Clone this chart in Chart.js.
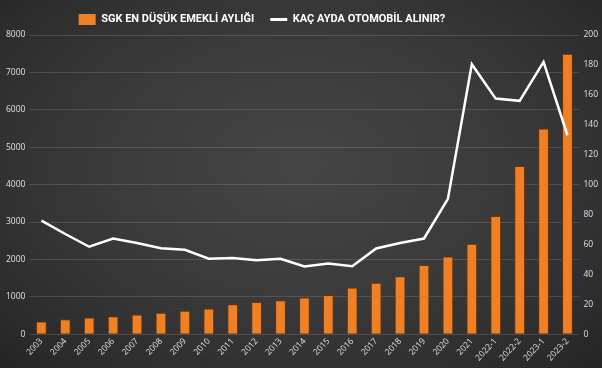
<!DOCTYPE html>
<html>
<head>
<meta charset="utf-8">
<script src="https://cdn.jsdelivr.net/npm/chart.js@4"></script>
<style>
  html, body { margin: 0; padding: 0; }
  body {
    width: 602px; height: 368px; overflow: hidden;
    background: radial-gradient(ellipse at 50% 45%, #454545 0%, #3b3b3b 45%, #2c2c2c 85%, #242424 100%);
  }
  #wrap { position: relative; width: 602px; height: 368px; }
</style>
</head>
<body>
<div id="wrap"><canvas id="emekli-chart"></canvas></div>
<script>
// Data
const years = ['2003', '2004', '2005', '2006', '2007', '2008', '2009', '2010', '2011', '2012', '2013',
  '2014', '2015', '2016', '2017', '2018', '2019', '2020', '2021', '2022-1', '2022-2', '2023-1', '2023-2'];
const pension = [340, 400, 450, 480, 530, 575, 630, 690, 800, 860, 910,
  980, 1050, 1250, 1380, 1550, 1850, 2080, 2420, 3160, 4500, 5500, 7500];
const monthsForCar = [76, 67, 58.5, 64, 61, 57.5, 56.5, 50.5, 51, 49.5, 50.5,
  45.3, 47.3, 45.5, 57.3, 61, 64, 90.5, 180.5, 157.5, 156, 182, 133];
const leftTicks = [0, 1000, 2000, 3000, 4000, 5000, 6000, 7000, 8000];
const rightTicks = [0, 20, 40, 60, 80, 100, 120, 140, 160, 180, 200];

const orange = '#f08024';
const tickFont = { family: "'Open Sans', 'DejaVu Sans', sans-serif", size: 8.5 };

// legend sits left of centre in the original
const legendShift = {
  id: 'legendShift',
  afterLayout(chart) {
    if (chart.legend) {
      chart.legend.left -= 40;
      chart.legend.right -= 40;
    }
  }
};

const ctx = document.getElementById('emekli-chart').getContext('2d');

new Chart(ctx, {
  type: 'bar',
  data: {
    labels: years,
    datasets: [{
      type: 'line',
      label: 'KAÇ AYDA OTOMOBİL ALINIR?',
      data: monthsForCar,
      yAxisID: 'y2',
      borderColor: '#ffffff',
      backgroundColor: '#ffffff',
      borderWidth: 2.5,
      pointRadius: 0,
      tension: 0,
      order: 0
    }, {
      label: 'SGK EN DÜŞÜK EMEKLİ AYLIĞI',
      data: pension,
      yAxisID: 'y',
      backgroundColor: orange,
      borderColor: '#6a3510',
      borderWidth: 1,
      barPercentage: 0.45,
      categoryPercentage: 1,
      order: 1
    }]
  },
  plugins: [legendShift],
  options: {
    responsive: true,
    maintainAspectRatio: false,
    animation: false,
    layout: { padding: { top: -2, left: 2, right: 0, bottom: 3 } },
    plugins: {
      legend: {
        position: 'top',
        reverse: true,
        labels: {
          color: '#ffffff',
          usePointStyle: true,
          pointStyleWidth: 17,
          boxHeight: 11,
          padding: 16,
          font: { family: "'Roboto', sans-serif", size: 11, weight: 'bold' },
          generateLabels: function(chart) {
            const items = Chart.defaults.plugins.legend.labels.generateLabels(chart);
            items.forEach(function(item) {
              if (item.datasetIndex === 1) {
                item.pointStyle = 'rect';
                item.fillStyle = orange;
                item.strokeStyle = orange;
                item.lineWidth = 0;
              } else {
                item.pointStyle = 'line';
                item.strokeStyle = '#ffffff';
                item.lineWidth = 3;
              }
            });
            return items;
          }
        }
      },
      tooltip: { enabled: false }
    },
    scales: {
      x: {
        grid: { display: false, drawTicks: false },
        border: { display: false },
        ticks: { color: '#e0e0e0', font: tickFont, minRotation: 47, maxRotation: 47, autoSkip: false, padding: 2 }
      },
      y: {
        position: 'left',
        min: 0,
        max: 8000,
        afterBuildTicks: function(axis) { axis.ticks = leftTicks.map(v => ({ value: v })); },
        grid: { color: 'rgba(255,255,255,0.13)', lineWidth: 1, drawTicks: false },
        border: { display: false },
        ticks: { color: '#e0e0e0', font: tickFont, padding: 4, callback: v => String(v) }
      },
      y2: {
        position: 'right',
        min: 0,
        max: 200,
        afterBuildTicks: function(axis) { axis.ticks = rightTicks.map(v => ({ value: v })); },
        grid: { display: false, drawTicks: false },
        border: { display: false },
        ticks: { color: '#e0e0e0', font: tickFont, padding: 4, callback: v => String(v) }
      }
    }
  }
});
</script>
</body>
</html>
